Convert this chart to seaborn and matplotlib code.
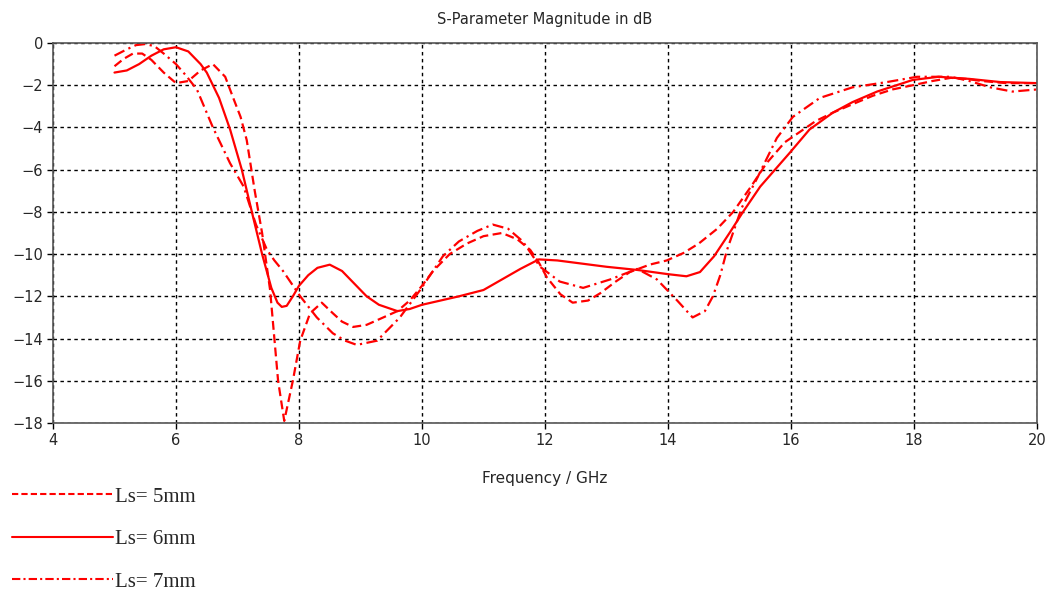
import matplotlib
matplotlib.use("Agg")
import matplotlib.pyplot as plt
from matplotlib.lines import Line2D
from matplotlib.font_manager import FontProperties
import seaborn as sns
import pandas as pd

# values (frequency in GHz, magnitude in dB)
f5 = [5.0, 5.15, 5.3, 5.45, 5.6, 5.8, 6.0, 6.2, 6.4, 6.6,
      6.8, 6.93, 7.05, 7.15, 7.28, 7.4, 7.53, 7.66, 7.76, 7.9,
      8.02, 8.18, 8.37, 8.55, 8.7, 8.88, 9.1, 9.37, 9.6, 9.8,
      10.0, 10.18, 10.45, 10.73, 11.0, 11.3, 11.55, 11.76, 11.9, 12.03,
      12.25, 12.45, 12.7, 12.9, 13.15, 13.38, 13.7, 13.98, 14.25, 14.5,
      14.8, 15.06, 15.35, 15.6, 15.9, 16.15, 16.4, 16.68, 17.0, 17.33,
      17.65, 17.98, 18.3, 18.6, 18.85, 19.1, 19.5, 20.0]
s5 = [-1.1, -0.75, -0.5, -0.5, -0.8, -1.4, -1.9, -1.8, -1.3, -1.0,
      -1.6, -2.6, -3.5, -4.6, -7.0, -9.0, -11.7, -16.0, -17.9, -16.0,
      -14.1, -12.8, -12.3, -12.8, -13.2, -13.45, -13.35, -13.0, -12.7, -12.2,
      -11.5, -10.8, -10.0, -9.5, -9.15, -9.0, -9.3, -9.8, -10.4, -11.1,
      -11.9, -12.3, -12.2, -11.85, -11.3, -10.85, -10.5, -10.3, -9.95, -9.5,
      -8.8, -8.0, -6.8, -5.7, -4.7, -4.2, -3.7, -3.3, -2.9, -2.5,
      -2.2, -2.0, -1.8, -1.65, -1.7, -1.8, -1.9, -1.9]

f6 = [5.0, 5.2, 5.4, 5.6, 5.8, 6.0, 6.2, 6.4, 6.5, 6.7,
      6.88, 7.07, 7.25, 7.4, 7.55, 7.65, 7.72, 7.8, 7.9, 8.0,
      8.15, 8.3, 8.5, 8.7, 8.9, 9.1, 9.3, 9.6, 9.8, 10.0,
      10.3, 10.6, 11.0, 11.3, 11.6, 11.9, 12.2, 12.6, 13.0, 13.5,
      14.0, 14.3, 14.52, 14.75, 15.0, 15.22, 15.5, 15.98, 16.3, 16.68,
      17.0, 17.4, 17.98, 18.4, 18.9, 19.4, 20.0]
s6 = [-1.4, -1.3, -1.0, -0.6, -0.3, -0.2, -0.4, -1.0, -1.4, -2.6,
      -4.1, -6.0, -8.2, -10.0, -11.6, -12.3, -12.5, -12.45, -12.0, -11.5,
      -11.0, -10.65, -10.5, -10.8, -11.4, -12.0, -12.4, -12.7, -12.6, -12.4,
      -12.2, -12.0, -11.7, -11.2, -10.7, -10.25, -10.3, -10.45, -10.6, -10.75,
      -10.95, -11.05, -10.85, -10.1, -9.0, -8.0, -6.8, -5.2, -4.1, -3.3,
      -2.8, -2.3, -1.75, -1.6, -1.7, -1.85, -1.9]

f7 = [5.0, 5.2, 5.35, 5.5, 5.65, 5.8, 6.0, 6.15, 6.34, 6.6,
      6.88, 7.1, 7.3, 7.48, 7.6, 7.74, 8.02, 8.29, 8.55, 8.75,
      8.94, 9.27, 9.64, 9.97, 10.34, 10.6, 10.9, 11.15, 11.4, 11.64,
      11.92, 12.24, 12.62, 13.06, 13.5, 13.82, 14.15, 14.4, 14.6, 14.73,
      14.85, 14.96, 15.2, 15.45, 15.77, 16.03, 16.47, 17.0, 17.56, 18.05,
      18.6, 18.9, 19.24, 19.6, 20.0]
s7 = [-0.6, -0.3, -0.1, -0.05, -0.15, -0.5, -1.0, -1.5, -2.2, -4.0,
      -5.7, -6.8, -8.6, -9.8, -10.3, -10.8, -12.0, -13.0, -13.75, -14.1,
      -14.3, -14.1, -13.0, -11.7, -10.1, -9.4, -8.9, -8.6, -8.8, -9.4,
      -10.6, -11.3, -11.6, -11.2, -10.7, -11.2, -12.2, -13.0, -12.7, -12.0,
      -11.0, -9.8, -7.8, -6.4, -4.5, -3.5, -2.6, -2.1, -1.85, -1.6,
      -1.6, -1.8, -2.1, -2.3, -2.2]

labels = ["Ls= 5mm", "Ls= 6mm", "Ls= 7mm"]
xticks = list(range(4, 21, 2))
yticks = list(range(-18, 1, 2))

df = pd.concat([
    pd.DataFrame({"freq": f5, "dB": s5, "Ls": labels[0]}),
    pd.DataFrame({"freq": f6, "dB": s6, "Ls": labels[1]}),
    pd.DataFrame({"freq": f7, "dB": s7, "Ls": labels[2]}),
])

sns.set_theme(style="white")
plt.rcParams["font.family"] = ["DejaVu Sans"]

dash_map = {labels[0]: (4, 2), labels[1]: "", labels[2]: (5, 2, 1, 2)}

fig = plt.figure(figsize=(10.51, 5.92), dpi=100)
ax = fig.add_axes([53 / 1051, 1 - 423 / 592, 984 / 1051, 380 / 592])

sns.lineplot(data=df, x="freq", y="dB", hue="Ls", style="Ls",
             palette=["#ff0000"] * 3, dashes=dash_map, estimator=None,
             sort=False, linewidth=1.6, legend=False, ax=ax)

ax.set_xlim(4, 20)
ax.set_ylim(-18, 0)
ax.set_xticks(xticks)
ax.set_yticks(yticks)
ax.tick_params(direction="out", length=4, width=1, color="black",
               labelsize=10.5, pad=3, bottom=True, left=True)
ax.grid(True, color="black", linestyle=(0, (2.5, 2.5)), linewidth=1)
for sp in ax.spines.values():
    sp.set_color("#555555")
    sp.set_linewidth(1.2)

ax.set_title("S-Parameter Magnitude in dB", fontsize=10.5, pad=14)
ax.set_xlabel("Frequency / GHz", fontsize=11, labelpad=17)
ax.set_ylabel("")

handles = [Line2D([], [], color="#ff0000", linewidth=1.5, dashes=(3, 1.5)),
           Line2D([], [], color="#ff0000", linewidth=1.5),
           Line2D([], [], color="#ff0000", linewidth=1.5, dashes=(4, 1.5, 1, 1.5))]
fig.legend(handles, labels, loc="upper left", bbox_to_anchor=(0.011, 1 - 487 / 592),
           frameon=False, prop=FontProperties(family="Liberation Serif", size=15),
           handlelength=4.85, handletextpad=0.1, labelspacing=1.1,
           borderpad=0, borderaxespad=0)

fig.savefig("out.png", dpi=100)
